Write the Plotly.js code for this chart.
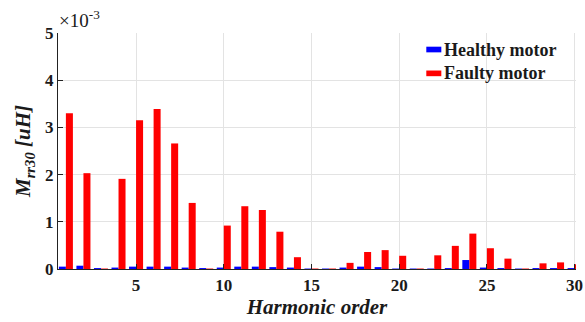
<!DOCTYPE html>
<html>
<head>
<meta charset="utf-8">
<script src="https://cdn.plot.ly/plotly-3.0.1.min.js"></script>
<style>
html,body{margin:0;padding:0;background:#fff;}
#chart{width:585px;height:322px;}
#chart text, #chart tspan{font-family:'Liberation Serif' !important;}
#note{font-family:'Liberation Serif';font-size:12px;color:#fff;height:4px;overflow:hidden;}
</style>
</head>
<body>
<div id="chart"></div>
<div id="note">Harmonic order</div>
<script>
// Harmonic order
const harmonics = [1,2,3,4,5,6,7,8,9,10,11,12,13,14,15,16,17,18,19,20,21,22,23,24,25,26,27,28,29,30];
// Mrr30 values in units of 1e-3 uH
const healthy = [0.05,0.07,0.02,0.03,0.05,0.05,0.05,0.03,0.02,0.03,0.05,0.05,0.04,0.03,0.01,0.01,0.03,0.05,0.04,0.01,0.01,0.01,0.02,0.19,0.03,0.02,0.01,0.02,0.02,0.02];
const faulty  = [3.30,2.03,0.01,1.91,3.15,3.39,2.66,1.40,0.01,0.92,1.33,1.25,0.79,0.25,0.01,0.01,0.13,0.36,0.40,0.28,0.01,0.29,0.49,0.75,0.44,0.22,0.01,0.12,0.14,0.10];
const seriesNames = ['Healthy motor', 'Faulty motor'];
const seriesColors = ['#0000ff', '#ff0000'];
const xTicks = [5,10,15,20,25,30];
const yTicks = [0,1,2,3,4,5];

const FAM = 'Liberation Serif';
const f = (size) => ({family: FAM, size: size, color: '#1a1a1a'});

const data = [
  {type:'bar', x:harmonics, y:healthy, name:seriesNames[0], marker:{color:seriesColors[0], line:{width:0}}},
  {type:'bar', x:harmonics, y:faulty, name:seriesNames[1], marker:{color:seriesColors[1], line:{width:0}}}
];

const shapes = [], annotations = [];
seriesNames.forEach((n, i) => {
  const yc = 0.93 - i * 0.101;
  shapes.push({type:'rect', xref:'paper', yref:'paper', x0:0.711, x1:0.740, y0:yc-0.012, y1:yc+0.012,
               fillcolor:seriesColors[i], line:{width:0}});
  annotations.push({xref:'paper', yref:'paper', x:0.741, y:yc, xanchor:'left', yanchor:'middle',
                    text:'<b>'+n+'</b>', showarrow:false, font:f(18)});
});
annotations.push({xref:'paper', yref:'paper', x:-0.002, y:1.0, xanchor:'left', yanchor:'bottom', yshift:0,
  text:'×10<sup>-3</sup>', showarrow:false, font:f(19)});

const layout = {
  width:585, height:322,
  margin:{l:58, r:9, t:33, b:53},
  paper_bgcolor:'#fff', plot_bgcolor:'#fff',
  barmode:'group', bargap:0.2, bargroupgap:0,
  showlegend:false,
  font: f(16),
  xaxis:{
    range:[0.55,30.08], tickvals:xTicks, ticktext:xTicks.map(v=>'<b>'+v+'</b>'),
    showgrid:true, gridcolor:'#e3e3e3', gridwidth:1,
    showline:true, linecolor:'#222', linewidth:1.2,
    ticks:'inside', ticklen:5, tickcolor:'#222', zeroline:false,
    tickfont:f(17),
    title:{text:'<b><i>Harmonic order</i></b>', font:f(21), standoff:2}
  },
  yaxis:{
    range:[0,5], tickvals:yTicks, ticktext:yTicks.map(v=>'<b>'+v+'</b>'),
    showgrid:true, gridcolor:'#e3e3e3', gridwidth:1,
    showline:true, linecolor:'#222', linewidth:1.2,
    ticks:'inside', ticklen:5, tickcolor:'#222', zeroline:false,
    tickfont:f(17),
    title:{text:'<b><i>M<sub>rr30</sub> [uH]</i></b>', font:f(21), standoff:8}
  },
  shapes: shapes,
  annotations: annotations
};

Plotly.newPlot('chart', data, layout, {displayModeBar:false, staticPlot:true});
</script>
</body>
</html>
